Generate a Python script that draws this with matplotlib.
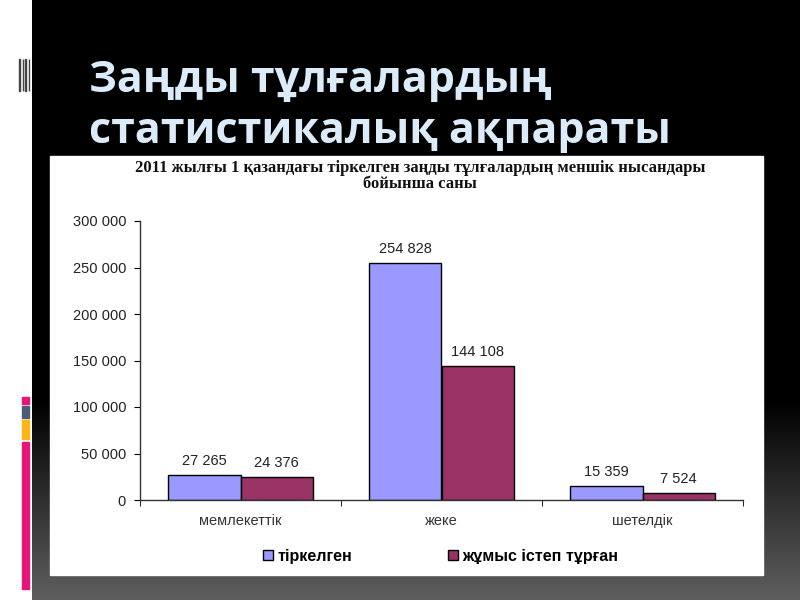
import numpy as np
import matplotlib
matplotlib.use("Agg")
import matplotlib.pyplot as plt
from matplotlib.patches import Rectangle
from matplotlib.ticker import FuncFormatter

categories = ["мемлекеттік", "жеке", "шетелдік"]
registered = [27265, 254828, 15359]
active = [24376, 144108, 7524]
series_names = ["тіркелген", "жұмыс істеп тұрған"]
yticks = [0, 50000, 100000, 150000, 200000, 250000, 300000]

slide_title = ["Заңды тұлғалардың", "статистикалық ақпараты"]
chart_title = ("2011 жылғы 1 қазандағы тіркелген заңды тұлғалардың меншік нысандары\n"
               "бойынша саны")

BLUE = "#9999FF"
MAROON = "#993366"


def fmt(v):
    return f"{int(v):,}".replace(",", " ")


fig = plt.figure(figsize=(8, 6), dpi=100)

# slide background in pixel coords
bg = fig.add_axes([0, 0, 1, 1])
bg.set_axis_off()
rows = np.arange(600)
shade = np.clip((rows - 400) / 200, 0, 1) * 95 / 255
img = np.repeat(shade[:, None], 800, axis=1)
img = np.stack([img] * 3, axis=-1)
img[:, :32] = 1
bg.imshow(img, extent=(0, 800, 600, 0), aspect="auto", interpolation="bilinear")
bg.set_xlim(0, 800)
bg.set_ylim(600, 0)

# white panel behind the chart
bg.add_patch(Rectangle((50, 156), 713, 419, color="white"))

# left strip decorations
bg.add_patch(Rectangle((22, 397), 7, 7, color="#E5157A"))
bg.add_patch(Rectangle((22, 406), 7, 12, color="#4F5B72"))
bg.add_patch(Rectangle((22, 420), 7, 19, color="#FDB515"))
bg.add_patch(Rectangle((22, 442), 7, 147, color="#E5157A"))
for x0 in [19, 22.5, 25, 28.5]:
    bg.add_patch(Rectangle((x0, 59), 0.8, 32, color="#444444"))

# slide title
for i, line in enumerate(slide_title):
    bg.text(89, 92 + 51 * i, line, fontsize=31, family="Open Sans",
            weight="bold", color="#DCEBFA", va="baseline", ha="left")

# chart title
bg.text(420, 176, chart_title, fontsize=12, family="Liberation Serif",
        weight="bold", color="#111111", ha="center", va="center",
        linespacing=1.0)

# chart
ax = fig.add_axes([140 / 800, 1 - 500 / 600, (743 - 140) / 800, (500 - 221) / 600])
ax.patch.set_alpha(0)
x = np.arange(len(categories))
w = 0.36
b1 = ax.bar(x - w / 2, registered, w, color=BLUE, edgecolor="black",
            linewidth=1, label=series_names[0])
b2 = ax.bar(x + w / 2, active, w, color=MAROON, edgecolor="black",
            linewidth=1, label=series_names[1])

for bars, vals in [(b1, registered), (b2, active)]:
    for bar, v in zip(bars, vals):
        ax.annotate(fmt(v), (bar.get_x() + bar.get_width() / 2, v),
                    xytext=(0, 5), textcoords="offset points",
                    ha="center", va="bottom", fontsize=10.5,
                    family="Liberation Sans", color="#222222")

ax.set_xlim(-0.5, 2.5)
ax.set_ylim(0, 300000)
ax.set_yticks(yticks)
ax.yaxis.set_major_formatter(FuncFormatter(lambda v, p: fmt(v)))
ax.set_xticks(x)
ax.set_xticklabels(categories)
ax.set_xticks([-0.5, 0.5, 1.5, 2.5], minor=True)
ax.tick_params(axis="x", which="major", length=0, pad=10, labelsize=10.5,
               labelcolor="#333333")
ax.tick_params(axis="x", which="minor", length=4, direction="out")
ax.tick_params(axis="y", length=4, direction="out", labelsize=10.5,
               labelcolor="#222222", pad=6)
for lbl in ax.get_xticklabels() + ax.get_yticklabels():
    lbl.set_family("Liberation Sans")
for s in ["top", "right"]:
    ax.spines[s].set_visible(False)
for s in ["left", "bottom"]:
    ax.spines[s].set_color("#333333")
    ax.spines[s].set_linewidth(1)

leg = fig.legend(handles=[b1, b2], loc="center", bbox_to_anchor=(441 / 800, 1 - 556 / 600),
                 ncol=2, frameon=False, handlelength=0.6, handleheight=0.6,
                 handletextpad=0.3, columnspacing=6,
                 prop={"family": "Liberation Sans", "weight": "bold", "size": 11.5})

fig.savefig("out.png", dpi=100)
